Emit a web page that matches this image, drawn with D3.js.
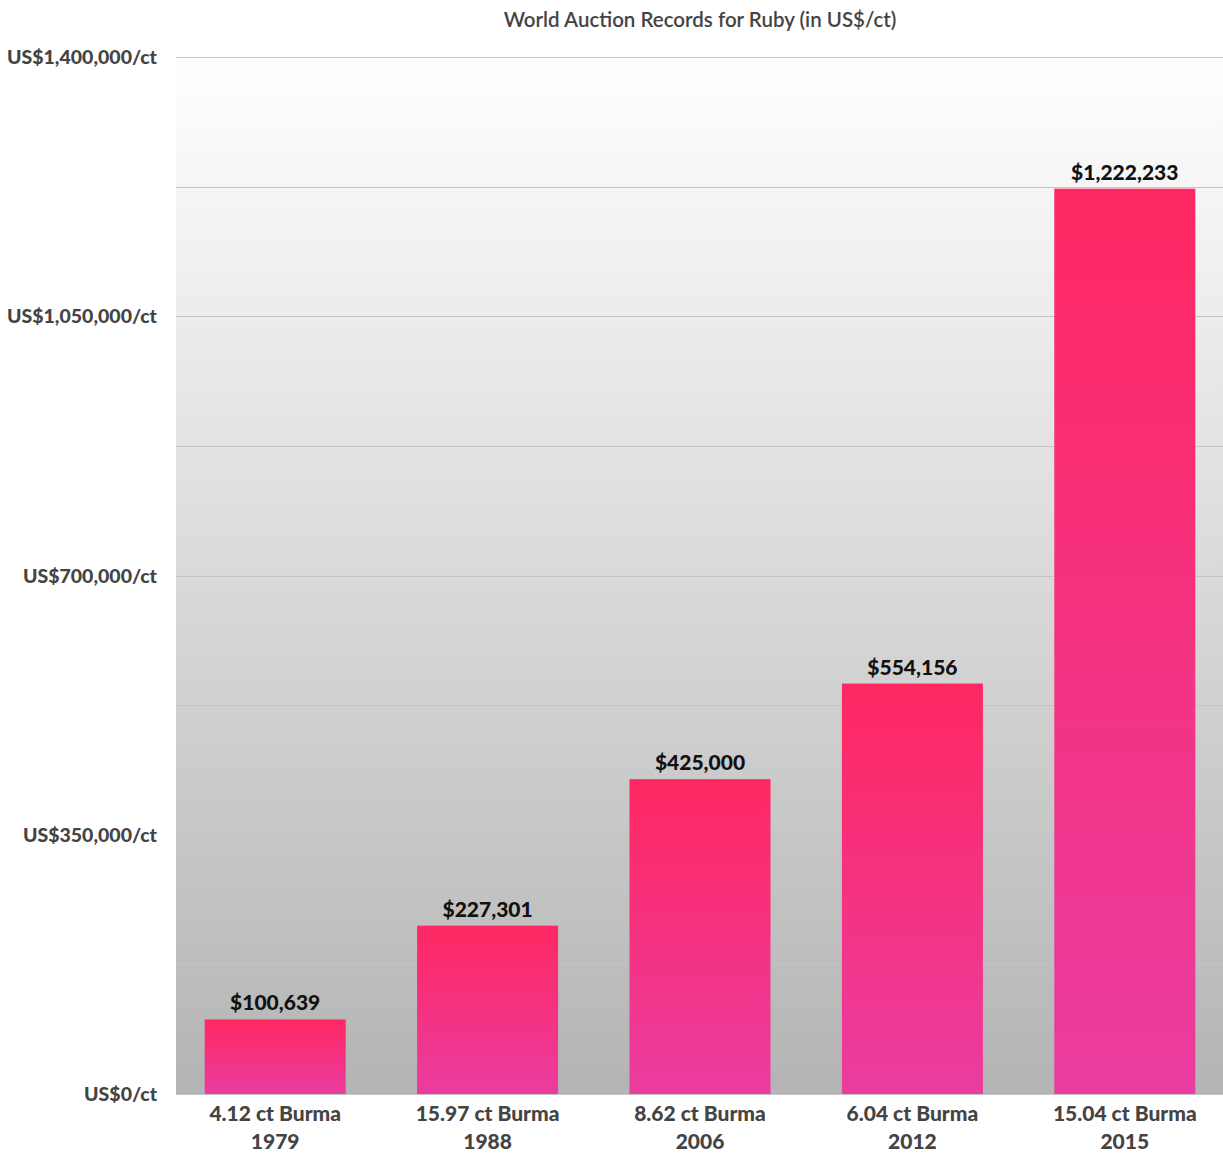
<!DOCTYPE html>
<html>
<head>
<meta charset="utf-8">
<script src="https://cdn.jsdelivr.net/npm/d3@7"></script>
<style>
  body { margin: 0; background: #fff; }
  text { font-family: Lato, "DejaVu Sans", sans-serif; }
</style>
</head>
<body>
<svg id="chart"></svg>
<script>
// data
var categories = ['4.12 ct Burma', '15.97 ct Burma', '8.62 ct Burma', '6.04 ct Burma', '15.04 ct Burma'];
var years = ['1979', '1988', '2006', '2012', '2015'];
var values = [100639, 227301, 425000, 554156, 1222233];
var yTicks = [0, 350000, 700000, 1050000, 1400000];
var gridTicks = d3.range(0, 1400001, 175000);

var width = 1223, height = 1158;
var plot = { left: 176, right: 1223, top: 57, bottom: 1094 };

var svg = d3.select('#chart').attr('width', width).attr('height', height);
var defs = svg.append('defs');

// background gradient
var bg = defs.append('linearGradient').attr('id', 'bg').attr('x1', 0).attr('y1', 0).attr('x2', 0).attr('y2', 1);
bg.append('stop').attr('offset', '0%').attr('stop-color', '#ffffff');
bg.append('stop').attr('offset', '100%').attr('stop-color', '#b4b4b4');

// bar gradient
var bar = defs.append('linearGradient').attr('id', 'bar').attr('x1', 0).attr('y1', 0).attr('x2', 0).attr('y2', 1);
bar.append('stop').attr('offset', '0%').attr('stop-color', '#ff2862');
bar.append('stop').attr('offset', '100%').attr('stop-color', '#ea3ca0');

var y = d3.scaleLinear().domain([0, 1400000]).range([plot.bottom, plot.top]);
var x = d3.scaleBand().domain(categories).range([169, 1231]).paddingInner(0.336).paddingOuter(0.168);

svg.append('rect')
  .attr('x', plot.left).attr('y', plot.top)
  .attr('width', plot.right - plot.left).attr('height', plot.bottom - plot.top)
  .attr('fill', 'url(#bg)');

// gridlines
svg.append('g').selectAll('line').data(gridTicks).join('line')
  .attr('x1', plot.left).attr('x2', plot.right)
  .attr('y1', d => Math.round(y(d)) + 0.5).attr('y2', d => Math.round(y(d)) + 0.5)
  .attr('stroke', '#c4c4c4').attr('stroke-width', 1.2);

// y labels
svg.append('g').selectAll('text').data(yTicks).join('text')
  .attr('x', 157).attr('y', d => y(d) + 7)
  .attr('text-anchor', 'end')
  .attr('font-size', 19.5).attr('font-weight', 900).attr('fill', '#444')
  .text(d => 'US$' + d3.format(',')(d) + '/ct');

// bars
svg.append('g').selectAll('rect').data(values).join('rect')
  .attr('x', (d, i) => x(categories[i]))
  .attr('y', d => y(d))
  .attr('width', x.bandwidth())
  .attr('height', d => y(0) - y(d))
  .attr('fill', 'url(#bar)');

// value labels
svg.append('g').selectAll('text').data(values).join('text')
  .attr('x', (d, i) => x(categories[i]) + x.bandwidth() / 2)
  .attr('y', d => y(d) - 9)
  .attr('text-anchor', 'middle')
  .attr('font-size', 21).attr('font-weight', 900).attr('fill', '#111')
  .text(d => '$' + d3.format(',')(d));

// x labels
var xl = svg.append('g').selectAll('text').data(categories).join('text')
  .attr('x', d => x(d) + x.bandwidth() / 2)
  .attr('y', 1121)
  .attr('text-anchor', 'middle')
  .attr('font-size', 21).attr('font-weight', 900).attr('fill', '#444');
xl.append('tspan').text(d => d);
xl.append('tspan').attr('x', d => x(d) + x.bandwidth() / 2).attr('dy', 28).text((d, i) => years[i]);

// title
svg.append('text')
  .attr('x', 700).attr('y', 27)
  .attr('text-anchor', 'middle')
  .attr('font-size', 20.5).attr('font-weight', 600).attr('fill', '#444')
  .text('World Auction Records for Ruby (in US$/ct)');
</script>
</body>
</html>
